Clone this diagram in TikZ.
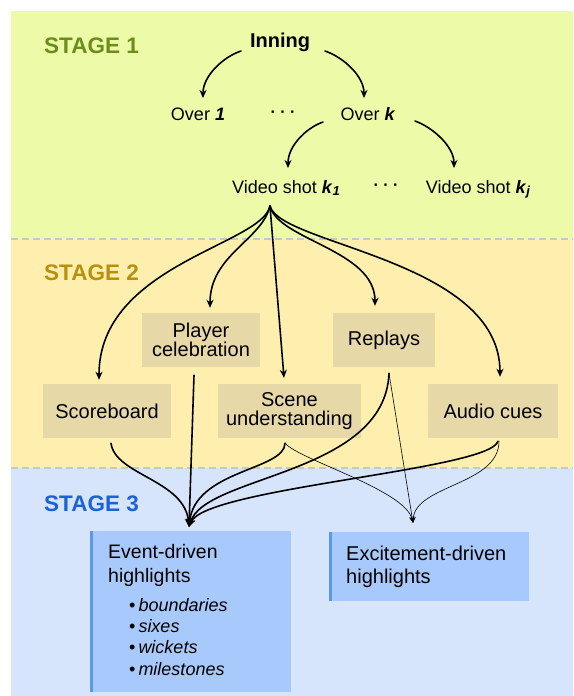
\documentclass[tikz,border=0pt]{standalone}
\usepackage{fontspec}
\setmainfont{Liberation Sans}
\usetikzlibrary{arrows.meta,calc}
\definecolor{bgone}{HTML}{EDFBA9}
\definecolor{bgtwo}{HTML}{FEEFAF}
\definecolor{bgthree}{HTML}{D6E4FC}
\definecolor{sepc}{HTML}{C8C8C8}
\definecolor{tanc}{HTML}{E7D8A8}
\definecolor{evfill}{HTML}{A8C9FB}
\definecolor{evbar}{HTML}{5B96F2}
\definecolor{stonec}{HTML}{6B8E1A}
\definecolor{sttwoc}{HTML}{B8900B}
\definecolor{stthreec}{HTML}{1A62D8}
\begin{document}
\begin{tikzpicture}[x=1pt,y=-1pt,
  lbl/.style={inner sep=0pt, anchor=base, font=\fontsize{18}{20}\selectfont},
  stagelbl/.style={inner sep=0pt, anchor=base west, font=\bfseries\fontsize{22.5}{22.5}\selectfont},
  tanbox/.style={fill=tanc, inner sep=0pt, minimum height=54pt, align=center, font=\fontsize{20}{18.5}\selectfont},
  hlbox/.style={fill=evfill, inner sep=0pt},
  hltext/.style={inner sep=0pt, anchor=base west, align=left},
  sepline/.style={draw=sepc, line width=2.5pt, dash pattern=on 7pt off 4pt},
  arr/.style={line width=1.6pt, line cap=round, -{Stealth[length=8pt,width=7pt,inset=2.5pt]}},
  thinarr/.style={line width=0.6pt, line cap=round, -{Stealth[length=6pt,width=5pt,inset=2pt]}}]
\useasboundingbox (0,0) rectangle (573,696);
% backgrounds
\fill[bgone] (11,11) rectangle (573,239);
\fill[bgtwo] (11,239) rectangle (573,468);
\fill[bgthree] (11,468) rectangle (573,696);
\draw[sepline] (11,239) -- (573,239);
\draw[sepline] (11,468) -- (573,468);
% stage labels
\node[stagelbl, text=stonec] (s1) at (44,53) {STAGE 1};
\node[stagelbl, text=sttwoc] (s2) at (44,280) {STAGE 2};
\node[stagelbl, text=stthreec] (s3) at (44,511) {STAGE 3};
% stage 1 tree
\node[lbl, font=\bfseries\fontsize{20}{20}\selectfont] (inning) at (280,47) {Inning};
\node[lbl] (over1) at (198,120) {Over \textbf{\textit{1}}};
\node[lbl, font=\bfseries\fontsize{16}{16}\selectfont] (dotsa) at (283,117) {· · ·};
\node[lbl] (overk) at (368,120) {Over \textbf{\textit{k}}};
\node[lbl] (vk1) at (286,193) {Video shot \textbf{\textit{k}}\raisebox{-2.5pt}{\fontsize{13}{13}\selectfont\bfseries\itshape 1}};
\node[lbl, font=\bfseries\fontsize{16}{16}\selectfont] (dotsb) at (386,190) {· · ·};
\node[lbl] (vkj) at (478,193) {Video shot \textbf{\textit{k}}\raisebox{-2.5pt}{\fontsize{13}{13}\selectfont\bfseries\itshape j}};
\draw[arr] ($(inning.base)+(-39,4)$) .. controls +(-18,6) and +(0,-22) .. ($(over1.base)+(5,-22)$);
\draw[arr] ($(inning.base)+(45,4)$) .. controls +(18,6) and +(0,-22) .. ($(overk.base)+(-4,-22)$);
\draw[arr] ($(overk.base)+(-45,2)$) .. controls +(-17,6) and +(0,-22) .. ($(vk1.base)+(2,-25)$);
\draw[arr] ($(overk.base)+(47,1)$) .. controls +(17,6) and +(0,-22) .. ($(vkj.base)+(-24,-25)$);
% stage 2 boxes
\node[tanbox, minimum width=118pt] (pc) at (201,340) {Player\\celebration};
\node[tanbox, minimum width=102pt] (rp) at (384,340) {Replays};
\node[tanbox, minimum width=128pt] (sb) at (107,411) {Scoreboard};
\node[tanbox, minimum width=143pt] (su) at (289.5,411) {Scene\\understanding};
\node[tanbox, minimum width=130pt] (ac) at (493,411) {Audio cues};
\coordinate (fan) at ($(vk1.base)+(-16,13)$);
\draw[arr] (fan) .. controls +(-8,39) and +(0,-115) .. ($(sb.north)+(-8,-4)$);
\draw[arr] (fan) .. controls +(-8,34) and +(0,-53) .. ($(pc.north)+(9,-5)$);
\draw[arr] (fan) -- ($(su.north)+(-5.5,-6)$);
\draw[arr] (fan) .. controls +(8,34) and +(0,-56) .. ($(rp.north)+(-9,-7)$);
\draw[arr] (fan) .. controls +(10,39) and +(0,-117) .. ($(ac.north)+(7,-7)$);
% stage 3 boxes
\node[hlbox, minimum width=201pt, minimum height=161pt] (ev) at (190.5,611.5) {};
\fill[evbar] (ev.north west) rectangle ($(ev.south west)+(3,0)$);
\node[hltext, font=\fontsize{19.5}{24}\selectfont] (evt) at (108,582) {Event-driven\\highlights};
\node[hltext, font=\fontsize{18}{21.3}\selectfont] (evl) at (129,675) {•\hspace{3pt}\textit{boundaries}\\•\hspace{3pt}\textit{sixes}\\•\hspace{3pt}\textit{wickets}\\•\hspace{3pt}\textit{milestones}};
\node[hlbox, minimum width=200pt, minimum height=69pt] (ex) at (429,566.5) {};
\fill[evbar] (ex.north west) rectangle ($(ex.south west)+(3,0)$);
\node[hltext, font=\fontsize{20}{23}\selectfont] (ext) at (346,583) {Excitement-driven\\highlights};
% stage 3 connectors
\coordinate (evtip) at ($(ev.north)+(-1.5,-4)$);
\coordinate (extip) at ($(ex.north)+(-16,-9)$);
\draw[arr] ($(sb.south)+(4,5)$) .. controls +(4,32) and +(-4,-47) .. (evtip);
\draw[arr] ($(pc.south)+(-7,8)$) -- (evtip);
\draw[arr] ($(su.south)+(-4.5,5)$) .. controls +(0,27) and +(6,-57) .. (evtip);
\draw[arr] ($(rp.south)+(5,6)$) .. controls +(-4,102) and +(16,-52) .. (evtip);
\draw[arr] ($(ac.south)+(5,3)$) .. controls +(-8,29) and +(16,-39) .. (evtip);
\draw[thinarr] ($(su.south)+(-4.5,5)$) .. controls +(15,17) and +(-8,-33) .. (extip);
\draw[thinarr] ($(rp.south)+(5,6)$) -- (extip);
\draw[thinarr] ($(ac.south)+(6,3)$) .. controls +(0,44) and +(2,-38) .. (extip);
\end{tikzpicture}
\end{document}
